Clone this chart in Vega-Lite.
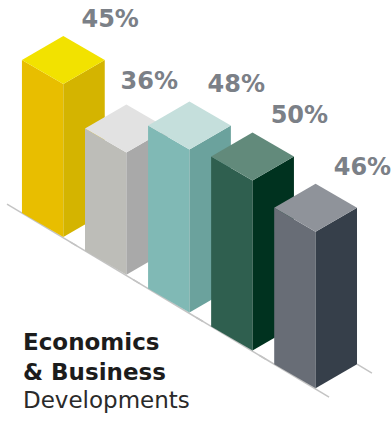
{
  "$schema": "https://vega.github.io/schema/vega-lite/v6.json",
  "width": 392,
  "height": 421,
  "autosize": {"type": "fit", "contains": "padding"},
  "padding": 0,
  "background": "#ffffff",
  "config": {"view": {"stroke": null}},
  "title": {
    "text": ["Economics", "& Business"],
    "subtitle": "Developments",
    "orient": "bottom",
    "anchor": "start",
    "frame": "group",
    "offset": -89,
    "dx": 23,
    "font": "DejaVu Sans",
    "fontSize": 23,
    "fontWeight": "bold",
    "color": "#1c1c1c",
    "lineHeight": 30,
    "subtitleFont": "DejaVu Sans",
    "subtitleFontSize": 23,
    "subtitleFontWeight": "normal",
    "subtitleColor": "#2a2a2a",
    "subtitleLineHeight": 29,
    "subtitlePadding": 5
  },
  "data": {
    "values": [
      {"bar": 1, "value": 45},
      {"bar": 2, "value": 36},
      {"bar": 3, "value": 48},
      {"bar": 4, "value": 50},
      {"bar": 5, "value": 46}
    ]
  },
  "transform": [
    {"calculate": "datum.bar - 1", "as": "b"},
    {"calculate": "0.348 + datum.b", "as": "xl"},
    {"calculate": "54.12 - 11.12 * datum.b", "as": "fb"},
    {"calculate": "datum.fb + datum.value", "as": "ft"}
  ],
  "encoding": {
    "x": {"field": "px", "type": "quantitative", "scale": {"domain": [0, 6.2], "nice": false, "zero": false}, "axis": null},
    "y": {"field": "py", "type": "quantitative", "scale": {"domain": [0, 123.82], "nice": false, "zero": false}, "axis": null, "stack": null}
  },
  "layer": [
    {
      "transform": [
        {"calculate": "datum.xl - 0.237", "as": "px"},
        {"calculate": "datum.fb + 7.06 + 0.237 * 11.12", "as": "py"},
        {"calculate": "datum.xl + 0.87", "as": "px2"},
        {"calculate": "datum.fb + 7.06 - 0.87 * 11.12", "as": "py2"}
      ],
      "mark": {"type": "rule", "color": "#c4c4c4", "strokeWidth": 1.5},
      "encoding": {"x2": {"field": "px2"}, "y2": {"field": "py2"}}
    },
    {
      "transform": [
        {"calculate": "datum.xl + 1.313", "as": "px"},
        {"calculate": "datum.fb + 7.06", "as": "py"},
        {"calculate": "datum.xl + 1.313 + 0.237", "as": "px2"},
        {"calculate": "datum.fb + 7.06 - 0.237 * 11.12", "as": "py2"}
      ],
      "mark": {"type": "rule", "color": "#c4c4c4", "strokeWidth": 1.5},
      "encoding": {"x2": {"field": "px2"}, "y2": {"field": "py2"}}
    },
    {
      "transform": [
        {"calculate": "['L','L','R','R','T','T','T']", "as": "face"},
        {"calculate": "[datum.xl, datum.xl + 0.656, datum.xl + 0.656, datum.xl + 1.313, datum.xl, datum.xl + 0.656, datum.xl + 1.313]", "as": "px"},
        {"calculate": "[datum.fb + 7.06, datum.fb, datum.fb, datum.fb + 7.06, datum.ft + 7.06, datum.ft, datum.ft + 7.06]", "as": "py"},
        {"calculate": "[datum.ft + 7.06, datum.ft, datum.ft, datum.ft + 7.06, datum.ft + 7.06, datum.ft + 14.12, datum.ft + 7.06]", "as": "py2"},
        {"flatten": ["face", "px", "py", "py2"]},
        {"calculate": "datum.bar + datum.face", "as": "key"}
      ],
      "encoding": {
        "y2": {"field": "py2"},
        "color": {
          "field": "key",
          "type": "nominal",
          "legend": null,
          "scale": {
            "domain": ["1L", "1R", "1T", "2L", "2R", "2T", "3L", "3R", "3T", "4L", "4R", "4T", "5L", "5R", "5T"],
            "range": ["#e8be00", "#d4b400", "#f2e200", "#bdbdb8", "#a9a9a9", "#e2e2e2", "#80b9b5", "#6ba29d", "#c5dfdc", "#2f5f4f", "#00321f", "#628a7b", "#686d76", "#363f4a", "#8f939a"]
          }
        }
      },
      "layer": [
        {"transform": [{"filter": "datum.bar == 1"}], "mark": {"type": "area", "interpolate": "linear", "opacity": 1}},
        {"transform": [{"filter": "datum.bar == 2"}], "mark": {"type": "area", "interpolate": "linear", "opacity": 1}},
        {"transform": [{"filter": "datum.bar == 3"}], "mark": {"type": "area", "interpolate": "linear", "opacity": 1}},
        {"transform": [{"filter": "datum.bar == 4"}], "mark": {"type": "area", "interpolate": "linear", "opacity": 1}},
        {"transform": [{"filter": "datum.bar == 5"}], "mark": {"type": "area", "interpolate": "linear", "opacity": 1}}
      ]
    },
    {
      "transform": [
        {"filter": "datum.bar != 2"},
        {"calculate": "datum.xl + 1.399", "as": "px"},
        {"calculate": "datum.ft + 18.82", "as": "py"},
        {"calculate": "datum.value + '%'", "as": "label"}
      ],
      "mark": {"type": "text", "font": "DejaVu Sans", "fontSize": 24, "fontWeight": "bold", "color": "#7b8087", "align": "center", "baseline": "middle"},
      "encoding": {"text": {"field": "label"}}
    },
    {
      "transform": [
        {"filter": "datum.bar == 2"},
        {"calculate": "datum.xl + 1.399", "as": "px"},
        {"calculate": "datum.ft + 18.82", "as": "py"},
        {"calculate": "datum.value + '%'", "as": "label"}
      ],
      "mark": {"type": "text", "font": "DejaVu Sans", "fontSize": 24, "fontWeight": "bold", "color": "#7b8087", "align": "center", "baseline": "middle", "dx": -24, "dy": -6},
      "encoding": {"text": {"field": "label"}}
    }
  ]
}
